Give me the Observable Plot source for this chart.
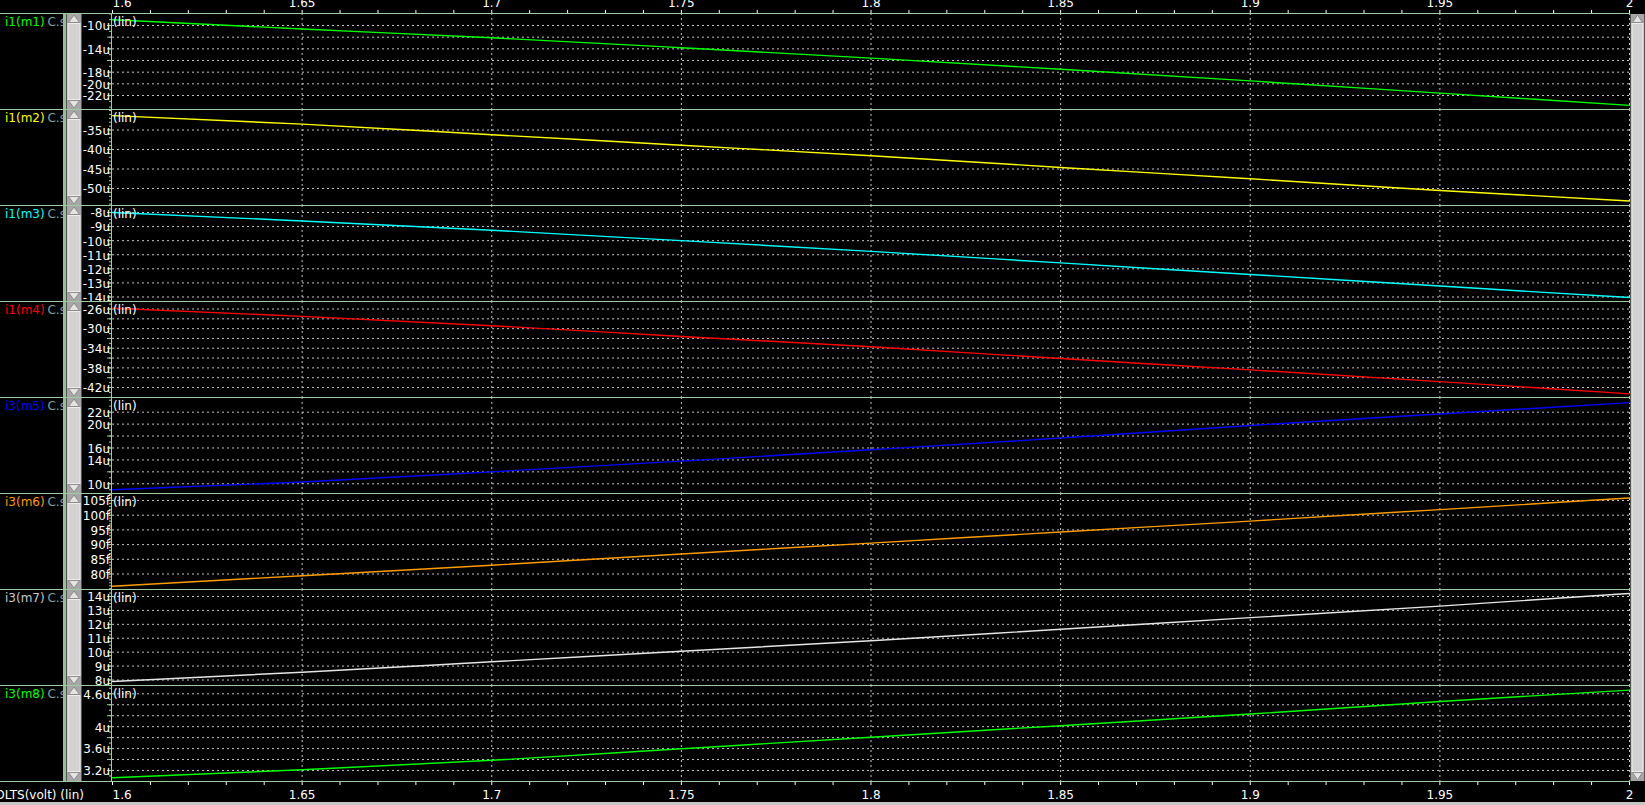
<!DOCTYPE html>
<html><head><meta charset="utf-8">
<script src="https://cdn.jsdelivr.net/npm/d3@7"></script>
<script src="https://cdn.jsdelivr.net/npm/@observablehq/plot@0.6"></script>
<style>
html,body{margin:0;padding:0;background:#000;}
#root{position:relative;width:1645px;height:805px;overflow:hidden;background:#000;font-family:"DejaVu Sans",sans-serif;font-size:12px;color:#fff;}
.abs{position:absolute;}
#root svg{display:block;overflow:visible;max-width:none;}
.lbl{position:absolute;left:0;width:63px;height:20px;overflow:hidden;white-space:nowrap;line-height:14px;}
.lbl span.n{margin-left:5px;}
.lbl span.c{color:#7fa3a3;margin-left:-1px;}
</style></head><body><div id="root"></div><script>
// ---- data ----
const volts = [1.6, 1.65, 1.7, 1.75, 1.8, 1.85, 1.9, 1.95, 2.0];
const xLabels = [1.6, 1.65, 1.7, 1.75, 1.8, 1.85, 1.9, 1.95, 2];
const xGrid = [1.65, 1.7, 1.75, 1.8, 1.85, 1.9, 1.95, 2];

const signalNames = ["i1(m1)", "i1(m2)", "i1(m3)", "i1(m4)", "i3(m5)", "i3(m6)", "i3(m7)", "i3(m8)"];
const signalColors = ["#00ff00", "#ffff00", "#00ffff", "#ff0000", "#0000ff", "#ff9c00", "#e6e6e6", "#00ff00"];
const labelColors = ["#00ff00", "#ffff00", "#00ffff", "#ff0000", "#0000ff", "#ff9c00", "#c8c8c8", "#00ff00"];
const signalUnits = ["u", "u", "u", "u", "u", "f", "u", "u"];

const i1_m1 = [-9.0, -10.6, -12.1, -13.8, -15.6, -17.5, -19.5, -21.6, -23.7];
const i1_m2 = [-31.3, -33.5, -36.2, -38.9, -41.6, -44.6, -47.5, -50.5, -53.2];
const i1_m3 = [-8.0, -8.6, -9.26, -10.0, -10.76, -11.58, -12.4, -13.22, -14.04];
const i1_m4 = [-25.84, -27.5, -29.4, -31.6, -33.7, -36.1, -38.4, -40.8, -43.3];
const i3_m5 = [9.0, 10.3, 12.0, 13.8, 15.7, 17.66, 19.77, 21.7, 23.6];
const i3_m6 = [75.85, 79.4, 83.0, 86.8, 90.5, 94.3, 98.0, 101.9, 105.85];
const i3_m7 = [7.89, 8.56, 9.31, 10.07, 10.82, 11.65, 12.48, 13.31, 14.22];
const i3_m8 = [3.067, 3.213, 3.386, 3.596, 3.806, 4.018, 4.23, 4.46, 4.668];
const series = [i1_m1, i1_m2, i1_m3, i1_m4, i3_m5, i3_m6, i3_m7, i3_m8];

const yLabelTicks = [
  [-10, -14, -18, -20, -22],
  [-35, -40, -45, -50],
  [-8, -9, -10, -11, -12, -13, -14],
  [-26, -30, -34, -38, -42],
  [22, 20, 16, 14, 10],
  [105, 100, 95, 90, 85, 80],
  [14, 13, 12, 11, 10, 9, 8],
  [4.6, 4, 3.6, 3.2]
];
const yGridTicks = [
  [-10, -12, -14, -16, -18, -20, -22],
  [-35, -40, -45, -50],
  [-8, -9, -10, -11, -12, -13, -14],
  [-26, -28, -30, -32, -34, -36, -38, -40, -42],
  [10, 12, 14, 16, 18, 20, 22],
  [80, 85, 90, 95, 100, 105],
  [8, 9, 10, 11, 12, 13, 14],
  [3.2, 3.4, 3.6, 3.8, 4.0, 4.2, 4.4, 4.6]
];
const yMinorStep = [1, 1, 0.25, 1, 1, 1, 0.25, 0.1];
const yDomains = [
  [-24.4, -7.94],
  [-54.36, -29.74],
  [-14.32, -7.503],
  [-44.04, -24.47],
  [8.37, 24.46],
  [74.73, 107.38],
  [7.605, 14.503],
  [2.9992, 4.7515]
];

// ---- layout ----
const W = 1645, PH = 96, TOP0 = 13, X0 = 112, X1 = 1629;
const green = "#9dcc9d", gridColor = "#c4c4c4";
const FONT = '"DejaVu Sans", sans-serif';
const root = document.getElementById("root");
const fmt = (d, u) => String(Math.round(d * 100) / 100) + u;
const baseStyle = {background: "transparent", color: "#fff", fontFamily: FONT, fontSize: "12px", overflow: "visible"};

function place(el, left, top) {
  el.classList.add("abs");
  el.style.left = left + "px";
  el.style.top = top + "px";
  root.appendChild(el);
}

// panels
series.forEach((vals, i) => {
  const T = TOP0 + i * PH;
  const data = volts.map((x, j) => ({x, y: vals[j]}));
  const [lo, hi] = yDomains[i];
  const step = yMinorStep[i];
  const minor = d3.range(Math.ceil(lo / step - 1e-9), Math.floor(hi / step + 1e-9) + 1).map(k => +(k * step).toFixed(4));
  const svg = Plot.plot({
    width: W, height: PH,
    marginLeft: X0, marginRight: W - X1, marginTop: 0, marginBottom: 0,
    x: {domain: [1.6, 2.0], axis: null, label: null},
    y: {domain: yDomains[i], label: null},
    style: baseStyle,
    marks: [
      Plot.gridY(yGridTicks[i], {stroke: gridColor, strokeOpacity: 1, strokeDasharray: "2,3"}),
      Plot.gridX(xGrid, {stroke: gridColor, strokeOpacity: 1, strokeDasharray: "2,3"}),
      Plot.axisY(minor, {tickSize: 3, stroke: green, tickFormat: () => "", label: null}),
      Plot.axisY(yGridTicks[i], {tickSize: 5, stroke: green, tickFormat: () => "", label: null}),
      Plot.axisY(yLabelTicks[i], {tickSize: 0, tickPadding: 2.5, dy: 1, fill: "#fff", tickFormat: d => fmt(d, signalUnits[i]), label: null}),
      Plot.line(data, {x: "x", y: "y", stroke: signalColors[i], strokeWidth: 1.4, curve: "monotone-x"})
    ]
  });
  place(svg, 0, T);

  const lab = document.createElement("div");
  lab.className = "lbl";
  lab.innerHTML = `<span class="n" style="color:${labelColors[i]}">${signalNames[i]}</span> <span class="c">C.s</span>`;
  place(lab, 0, T + 2);

  const lin = document.createElement("div");
  lin.textContent = "(lin)";
  lin.style.lineHeight = "14px";
  place(lin, 113, T + 2);
});

// top axis
const topAxis = Plot.plot({
  width: W, height: 13, marginLeft: X0, marginRight: W - X1, marginTop: 13, marginBottom: 0,
  x: {domain: [1.6, 2.0], label: null},
  style: baseStyle,
  marks: [
    Plot.axisX(d3.ticks(1.6, 2.0, 40), {anchor: "top", tickSize: 4, stroke: "#fff", tickFormat: () => "", label: null}),
    Plot.axisX(xLabels.slice(1), {anchor: "top", tickSize: 0, tickPadding: 7, fill: "#fff", tickFormat: d => String(d), label: null}),
    Plot.axisX([xLabels[0]], {anchor: "top", tickSize: 0, tickPadding: 7, fill: "#fff", textAnchor: "start", tickFormat: d => String(d), label: null})
  ]
});
place(topAxis, 0, 0);

// bottom axis
const botTop = TOP0 + 8 * PH;
const bottomAxis = Plot.plot({
  width: W, height: 22, marginLeft: X0, marginRight: W - X1, marginTop: 0, marginBottom: 22,
  x: {domain: [1.6, 2.0], label: null},
  style: baseStyle,
  marks: [
    Plot.axisX(d3.ticks(1.6, 2.0, 40), {anchor: "bottom", tickSize: 4, stroke: "#fff", tickFormat: () => "", label: null}),
    Plot.axisX(xLabels.slice(1), {anchor: "bottom", tickSize: 0, tickPadding: 9, fill: "#fff", tickFormat: d => String(d), label: null}),
    Plot.axisX([xLabels[0]], {anchor: "bottom", tickSize: 0, tickPadding: 9, fill: "#fff", textAnchor: "start", tickFormat: d => String(d), label: null})
  ]
});
place(bottomAxis, 0, botTop);

const xname = document.createElement("div");
xname.textContent = "VOLTS(volt) (lin)";
xname.style.lineHeight = "14px";
xname.style.whiteSpace = "nowrap";
xname.classList.add("abs");
xname.style.right = (W - 84) + "px";
xname.style.top = (botTop + 7) + "px";
root.appendChild(xname);

// chrome (borders, scrollbars)
const ch = d3.select(root).append("svg").attr("class", "abs").attr("width", W).attr("height", 805)
  .style("left", "0px").style("top", "0px");
ch.append("rect").attr("x", 0).attr("y", 802).attr("width", W).attr("height", 3).attr("fill", "#c6c6c6");
ch.append("rect").attr("x", 63).attr("y", TOP0).attr("width", 3).attr("height", 8 * PH).attr("fill", "#98bc98");
ch.append("line").attr("x1", 111.5).attr("x2", 111.5).attr("y1", TOP0).attr("y2", botTop).attr("stroke", green);
for (let i = 0; i <= 8; i++) {
  const y = TOP0 + i * PH + 0.5;
  ch.append("line").attr("x1", 0).attr("x2", 1630).attr("y1", y).attr("y2", y).attr("stroke", green);
}
function vscroll(x, y, w, h) {
  const cx = x + w / 2;
  ch.append("rect").attr("x", x).attr("y", y).attr("width", w).attr("height", h).attr("fill", "#a6a6a6");
  ch.append("rect").attr("x", x + 1.5).attr("y", y + 9.5).attr("width", w - 3).attr("height", h - 19).attr("fill", "#d2d2d2").attr("stroke", "#ededed");
  ch.append("polygon").attr("points", `${cx},${y + 1} ${x + 2},${y + 8.5} ${x + w - 2},${y + 8.5}`).attr("fill", "#e4e4e4").attr("stroke", "#8c8c8c");
  ch.append("polygon").attr("points", `${x + 2},${y + h - 8.5} ${x + w - 2},${y + h - 8.5} ${cx},${y + h - 1}`).attr("fill", "#e4e4e4").attr("stroke", "#8c8c8c");
}
for (let i = 0; i < 8; i++) vscroll(66.5, TOP0 + i * PH + 1, 15, PH - 1);
vscroll(1630.5, TOP0 + 1, 14, 8 * PH - 1);
</script></body></html>
